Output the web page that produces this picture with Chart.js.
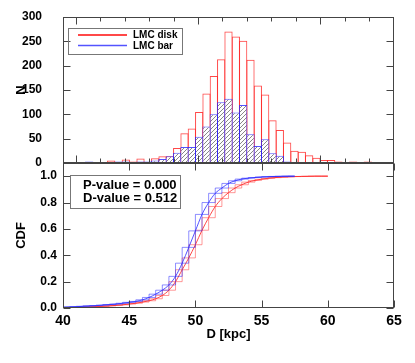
<!DOCTYPE html>
<html>
<head>
<meta charset="utf-8">
<script src="https://cdn.jsdelivr.net/npm/chart.js@4.4.0/dist/chart.umd.min.js"></script>
<style>
  html, body { margin: 0; padding: 0; background: #fff; }
  #wrap { position: relative; width: 415px; height: 363px; }
  #top { position: absolute; left: 0; top: 0; width: 415px; height: 175px; }
  #bottom { position: absolute; left: 0; top: 163px; width: 415px; height: 182px; }
</style>
</head>
<body>
<div id="wrap">
  <div id="top"><canvas id="histChart"></canvas></div>
  <div id="bottom"><canvas id="cdfChart"></canvas></div>
</div>
<script>
// histogram bins (centres, kpc) and counts
const binCenters = [40.5, 41.1, 41.7, 42.3, 42.9, 43.5, 44.1, 44.7, 45.3, 45.9,
  46.5, 47.1, 47.7, 48.3, 48.9, 49.5, 50.1, 50.7, 51.3, 51.9,
  52.5, 53.1, 53.7, 54.3, 54.9, 55.5, 56.1, 56.7, 57.3, 57.9,
  58.5, 59.1, 59.7, 60.3, 60.9, 61.5, 62.1, 62.7, 63.3, 63.9, 64.5];
const diskCounts = [1, 1, 0, 2, 5, 2, 7, 3, 9, 2,
  10, 14, 14, 31, 61, 71, 105, 143, 179, 213,
  270, 260, 251, 212, 159, 141, 88, 68, 42, 25,
  23, 16, 11, 6, 6, 3, 1, 3, 1, 3, 1];
const barCounts = [1, 3, 1, 2, 2, 3, 3, 1, 3, 3,
  5, 8, 14, 21, 33, 33, 54, 75, 100, 125,
  132, 104, 119, 59, 35, 49, 20, 15, 3, 1,
  1, 0, 1, 0, 0, 2, 0, 0, 0, 0, 0];

// cumulative distributions
const cdfX = [40, 40.5, 41, 41.5, 42, 42.5, 43, 43.5, 44, 44.5,
  45, 45.5, 46, 46.5, 47, 47.5, 48, 48.5, 49, 49.5,
  50, 50.5, 51, 51.5, 52, 52.5, 53, 53.5, 54, 54.5,
  55, 55.5, 56, 56.5, 57, 57.5, 58, 58.5, 59, 59.5, 60];
const diskCdf = [0.0, 0.002, 0.004, 0.006, 0.008, 0.01, 0.013, 0.016, 0.02, 0.024,
  0.03, 0.036, 0.045, 0.055, 0.07, 0.095, 0.135, 0.2, 0.29, 0.38,
  0.48, 0.59, 0.685, 0.77, 0.83, 0.875, 0.91, 0.935, 0.955, 0.968,
  0.977, 0.984, 0.989, 0.993, 0.995, 0.997, 0.998, 0.999, 1.0, 1.0, 1.0];
const barCdf = [0.005, 0.008, 0.01, 0.013, 0.016, 0.018, 0.022, 0.026, 0.03, 0.036,
  0.043, 0.05, 0.062, 0.08, 0.105, 0.135, 0.175, 0.24, 0.34, 0.46,
  0.585, 0.71, 0.80, 0.87, 0.91, 0.945, 0.965, 0.978, 0.985, 0.99,
  0.994, 0.996, 0.998, 0.999, 1.0, 1.0];

const seriesNames = ['LMC disk', 'LMC bar'];
const statsLines = ['P-value = 0.000', 'D-value = 0.512'];

const RED = 'rgba(255,40,40,0.85)';
const RED_LIGHT = 'rgba(255,70,70,0.55)';
const BLUE = 'rgba(40,40,255,0.8)';
const BLUE_LIGHT = 'rgba(50,50,255,0.55)';

Chart.defaults.font.family = '"Liberation Sans", Arial, Helvetica, sans-serif';
Chart.defaults.color = '#000';

// diagonal hatch for the bar histogram
function makeHatch() {
  const c = document.createElement('canvas');
  c.width = 4; c.height = 4;
  const g = c.getContext('2d');
  g.fillStyle = '#fff';
  g.fillRect(0, 0, 4, 4);
  g.strokeStyle = '#6a6a6a';
  g.lineWidth = 0.8;
  g.beginPath();
  g.moveTo(-1, 5); g.lineTo(5, -1);
  g.moveTo(-1, 1); g.lineTo(1, -1);
  g.moveTo(3, 5); g.lineTo(5, 3);
  g.stroke();
  return g.createPattern(c, 'repeat');
}

function isMajor(v, step) {
  const r = v / step;
  return Math.abs(r - Math.round(r)) < 1e-6;
}

// keep the plot area where the layout padding puts it
function fixY(s) { s.width = 63; s.paddingTop = 0; s.paddingBottom = 0; }

// box around plot area + inward ticks on all four sides
const frameTicks = {
  id: 'frameTicks',
  afterDatasetsDraw(chart, args, opts) {
    const {ctx, chartArea: a} = chart;
    const L = Math.round(a.left) + 0.5, R = Math.round(a.right) - 0.5;
    const T = Math.round(a.top) + 0.5, B = Math.round(a.bottom) - 0.5;
    ctx.save();
    ctx.strokeStyle = '#444';
    ctx.lineWidth = 1;
    ctx.beginPath();
    const xs = chart.scales.x;
    xs.ticks.forEach(t => {
      const p = Math.round(xs.getPixelForValue(t.value)) + 0.5;
      const len = isMajor(t.value, opts.xMajor) ? 7 : 4;
      ctx.moveTo(p, B); ctx.lineTo(p, B - len);
      ctx.moveTo(p, T); ctx.lineTo(p, T + len);
    });
    const ys = chart.scales.y;
    ys.ticks.forEach(t => {
      const p = Math.round(ys.getPixelForValue(t.value)) + 0.5;
      const len = isMajor(t.value, opts.yMajor) ? 7 : 4;
      ctx.moveTo(L, p); ctx.lineTo(L + len, p);
      ctx.moveTo(R, p); ctx.lineTo(R - len, p);
    });
    ctx.stroke();
    ctx.strokeRect(L, T, R - L, B - T);
    ctx.restore();
  }
};

const histLegend = {
  id: 'histLegend',
  afterDraw(chart) {
    const {ctx, chartArea: a} = chart;
    const x0 = a.left + 5, y0 = a.top + 11;
    ctx.save();
    ctx.strokeStyle = '#777';
    ctx.lineWidth = 1;
    ctx.strokeRect(x0 + 0.5, y0 + 0.5, 114, 26);
    ctx.font = 'bold 10px "Liberation Sans", Arial, sans-serif';
    ctx.fillStyle = '#000';
    ctx.textBaseline = 'middle';
    const rows = [
      {name: seriesNames[0], color: RED, w: 2, y: y0 + 7},
      {name: seriesNames[1], color: BLUE, w: 1.3, y: y0 + 17.5}
    ];
    rows.forEach(r => {
      ctx.strokeStyle = r.color;
      ctx.lineWidth = r.w;
      ctx.beginPath();
      ctx.moveTo(x0 + 10, r.y); ctx.lineTo(x0 + 59, r.y);
      ctx.stroke();
      ctx.fillText(r.name, x0 + 65, r.y + 0.5);
    });
    ctx.restore();
  }
};

const statsBox = {
  id: 'statsBox',
  afterDraw(chart) {
    const {ctx, chartArea: a} = chart;
    const x0 = a.left + 7, y0 = a.top + 12;
    ctx.save();
    ctx.strokeStyle = '#777';
    ctx.lineWidth = 1;
    ctx.strokeRect(x0 + 0.5, y0 + 0.5, 110, 33);
    ctx.font = 'bold 13px "Liberation Sans", Arial, sans-serif';
    ctx.fillStyle = '#000';
    ctx.textBaseline = 'middle';
    statsLines.forEach((s, i) => ctx.fillText(s, x0 + 13, y0 + 10 + i * 13));
    ctx.restore();
  }
};

const hatch = makeHatch();
// bars a little wider than a bin so neighbouring outlines share one line
const barFill = 1.126;

new Chart(document.getElementById('histChart'), {
  type: 'bar',
  data: {
    datasets: [
      {
        label: seriesNames[0],
        data: binCenters.map((c, i) => ({x: c, y: diskCounts[i]})),
        backgroundColor: 'rgba(0,0,0,0)',
        borderColor: RED,
        order: 2
      },
      {
        label: seriesNames[1],
        data: binCenters.map((c, i) => ({x: c, y: barCounts[i]})),
        backgroundColor: hatch,
        borderColor: BLUE,
        order: 1
      }
    ]
  },
  options: {
    responsive: true,
    maintainAspectRatio: false,
    animation: false,
    datasets: {
      bar: {
        grouped: false, barPercentage: barFill, categoryPercentage: 1,
        borderWidth: 1, inflateAmount: 0, borderSkipped: 'start'
      }
    },
    layout: { padding: { top: 17, right: 21, bottom: 12, left: 0 } },
    scales: {
      x: {
        type: 'linear', min: 40, max: 65, display: false,
        ticks: { stepSize: 1 }
      },
      y: {
        min: 0, max: 300,
        grid: { display: false },
        border: { display: false },
        ticks: {
          stepSize: 10, autoSkip: false, padding: 13,
          font: { size: 12, weight: 'bold' },
          callback: v => (v % 50 === 0 ? String(v) : null)
        },
        title: {
          display: true, text: 'N',
          font: { size: 13, weight: 'bold' },
          padding: { top: 14, bottom: 0 }
        },
        afterFit: fixY
      }
    },
    plugins: {
      legend: { display: false },
      tooltip: { enabled: false },
      frameTicks: { xMajor: 5, yMajor: 50 }
    }
  },
  plugins: [frameTicks, histLegend]
});

function pts(ys) { return ys.map((v, i) => ({x: cdfX[i], y: v})); }

new Chart(document.getElementById('cdfChart'), {
  type: 'line',
  data: {
    datasets: [
      { data: pts(diskCdf), borderColor: RED_LIGHT, stepped: 'before', order: 6 },
      { data: pts(diskCdf), borderColor: RED_LIGHT, stepped: 'after', order: 5 },
      { data: pts(diskCdf), borderColor: RED, cubicInterpolationMode: 'monotone', order: 4 },
      { data: pts(barCdf), borderColor: BLUE_LIGHT, stepped: 'before', order: 3 },
      { data: pts(barCdf), borderColor: BLUE_LIGHT, stepped: 'after', order: 2 },
      { data: pts(barCdf), borderColor: BLUE, cubicInterpolationMode: 'monotone', order: 1 }
    ]
  },
  options: {
    responsive: true,
    maintainAspectRatio: false,
    animation: false,
    datasets: { line: { borderWidth: 1, pointRadius: 0, fill: false } },
    layout: { padding: { top: 0, right: 21, bottom: 0, left: 0 } },
    scales: {
      x: {
        type: 'linear', min: 40, max: 65,
        grid: { display: false, drawTicks: false },
        border: { display: false },
        ticks: {
          stepSize: 1, autoSkip: false, padding: 5, maxRotation: 0,
          font: { size: 14, weight: 'bold' },
          callback: v => (v % 5 === 0 ? String(v) : null)
        },
        title: {
          display: true, text: 'D [kpc]',
          font: { size: 13, weight: 'bold' },
          padding: { top: 0, bottom: 3 }
        },
        afterFit: s => { s.height = 37; s.paddingLeft = 0; s.paddingRight = 0; }
      },
      y: {
        min: 0, max: 1.1,
        grid: { display: false, drawTicks: false },
        border: { display: false },
        ticks: {
          stepSize: 0.05, autoSkip: false, padding: 6,
          font: { size: 12, weight: 'bold' },
          callback: v => (isMajor(v, 0.2) && v < 1.05 ? v.toFixed(1) : null)
        },
        title: {
          display: true, text: 'CDF',
          font: { size: 13, weight: 'bold' },
          padding: { top: 14, bottom: 0 }
        },
        afterFit: fixY
      }
    },
    plugins: {
      legend: { display: false },
      tooltip: { enabled: false },
      frameTicks: { xMajor: 5, yMajor: 0.2 }
    }
  },
  plugins: [frameTicks, statsBox]
});
</script>
</body>
</html>
